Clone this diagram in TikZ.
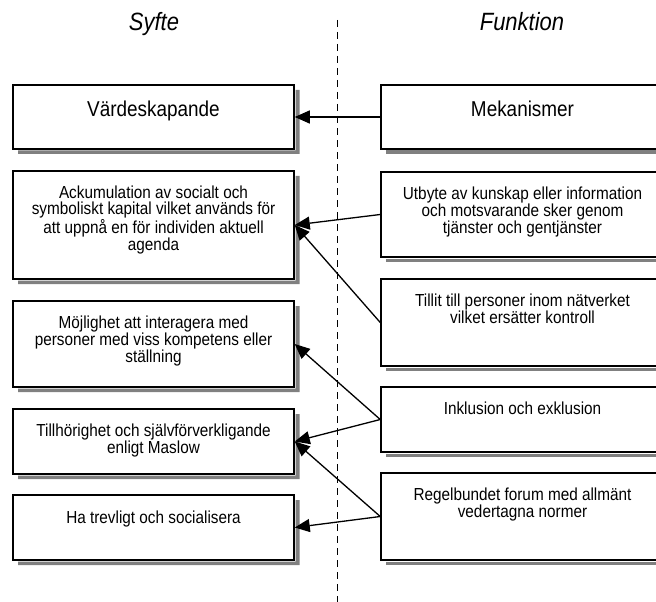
\documentclass[tikz,border=0pt]{standalone}
\usepackage{fontspec}
\setmainfont[FakeStretch=0.88]{Liberation Sans}
\usetikzlibrary{arrows.meta}
\definecolor{shadowgrey}{RGB}{128,128,128}
\begin{document}
\begin{tikzpicture}[x=1bp,y=-1bp,
  box/.style={draw, line width=1.5bp, fill=white, inner sep=0pt},
  lbox/.style={box, minimum width=281bp},
  rbox/.style={box, minimum width=283bp},
  bigtxt/.style={inner sep=0pt, align=center, font=\fontsize{21.5bp}{24bp}\selectfont},
  smalltxt/.style={inner sep=0pt, align=center, font=\fontsize{17.4bp}{16.2bp}\selectfont},
  heading/.style={inner sep=0pt, anchor=base, font=\fontsize{25bp}{28bp}\selectfont\itshape},
  arr/.style={line width=1.3bp, -{Triangle[length=15bp,width=13bp]}},
  divider/.style={line width=1bp, dash pattern=on 7bp off 5bp}
]
\path[use as bounding box] (0,0) rectangle (656,602);

% left column: purposes
\node[lbox, minimum height=64bp]  (vard)  at (153.5,117)   {};
\node[lbox, minimum height=108bp] (ack)   at (153.5,225)   {};
\node[lbox, minimum height=86bp]  (moj)   at (153.5,344)   {};
\node[lbox, minimum height=65bp]  (tillh) at (153.5,441.5) {};
\node[lbox, minimum height=65bp]  (ha)    at (153.5,527.5) {};

% right column: functions (running on past the right edge)
\node[rbox, minimum height=64bp] (mek)   at (522.5,117)   {};
\node[rbox, minimum height=85bp] (utb)   at (522.5,214.5) {};
\node[rbox, minimum height=87bp] (till)  at (522.5,322.5) {};
\node[rbox, minimum height=65bp] (inkl)  at (522.5,419.5) {};
\node[rbox, minimum height=87bp] (regel) at (522.5,516.5) {};

% grey drop shadows along the right and lower edges of the boxes
\fill[shadowgrey] (295.5,90)  rectangle (299.5,154) (18,150.5) rectangle (299.5,154);
\fill[shadowgrey] (295.5,176) rectangle (299.5,284) (18,280.5) rectangle (299.5,284);
\fill[shadowgrey] (295.5,306) rectangle (299.5,392) (18,388.5) rectangle (299.5,392);
\fill[shadowgrey] (295.5,414) rectangle (299.5,479) (18,475.5) rectangle (299.5,479);
\fill[shadowgrey] (295.5,500) rectangle (299.5,565) (18,561.5) rectangle (299.5,565);
\fill[shadowgrey] (386,150.5) rectangle (669,154);
\fill[shadowgrey] (386,258.5) rectangle (669,262);
\fill[shadowgrey] (386,367.5) rectangle (669,371);
\fill[shadowgrey] (386,453.5) rectangle (669,457);
\fill[shadowgrey] (386,561.5) rectangle (669,565);

% column headings
\node[heading] (hsyfte) at (154,31) {Syfte};
\node[heading] (hfunk) at (522,31) {Funktion};

% dividing line between the two columns
\coordinate (dtop) at (337,20);
\coordinate (dbot) at (337,602);
\draw[divider] (dtop) -- (dbot);

% box texts
\node[bigtxt, anchor=north] (tvard) at ([yshift=-16bp]vard.north) {Värdeskapande};
\node[smalltxt, anchor=north] (tack) at ([yshift=-15.5bp]ack.north)
  {Ackumulation av socialt och\\symboliskt kapital vilket används för\\att uppnå en för individen aktuell\\agenda};
\node[smalltxt, anchor=north] (tmoj) at ([yshift=-15.5bp]moj.north)
  {Möjlighet att interagera med\\personer med viss kompetens eller\\ställning};
\node[smalltxt, anchor=north] (ttillh) at ([yshift=-15.5bp]tillh.north)
  {Tillhörighet och självförverkligande\\enligt Maslow};
\node[smalltxt, anchor=north] (tha) at ([yshift=-16bp]ha.north)
  {Ha trevligt och socialisera};

\node[bigtxt, anchor=north] (tmek) at ([yshift=-16bp]mek.north) {Mekanismer};
\node[smalltxt, anchor=north] (tutb) at ([yshift=-15.5bp]utb.north)
  {Utbyte av kunskap eller information\\och motsvarande sker genom\\tjänster och gentjänster};
\node[smalltxt, anchor=north] (ttill) at ([yshift=-15.5bp]till.north)
  {Tillit till personer inom nätverket\\vilket ersätter kontroll};
\node[smalltxt, anchor=north] (tinkl) at ([yshift=-15.5bp]inkl.north)
  {Inklusion och exklusion};
\node[smalltxt, anchor=north] (tregel) at ([yshift=-15.5bp]regel.north)
  {Regelbundet forum med allmänt\\vedertagna normer};

% connectors
\draw[arr] (mek.west) -- (vard.east);
\draw[arr] (utb.west) -- (ack.east);
\draw[arr] (till.west) -- (ack.east);
\draw[arr] (inkl.west) -- (moj.east);
\draw[arr] (inkl.west) -- (tillh.east);
\draw[arr] (regel.west) -- (tillh.east);
\draw[arr] (regel.west) -- (ha.east);
\end{tikzpicture}
\end{document}
